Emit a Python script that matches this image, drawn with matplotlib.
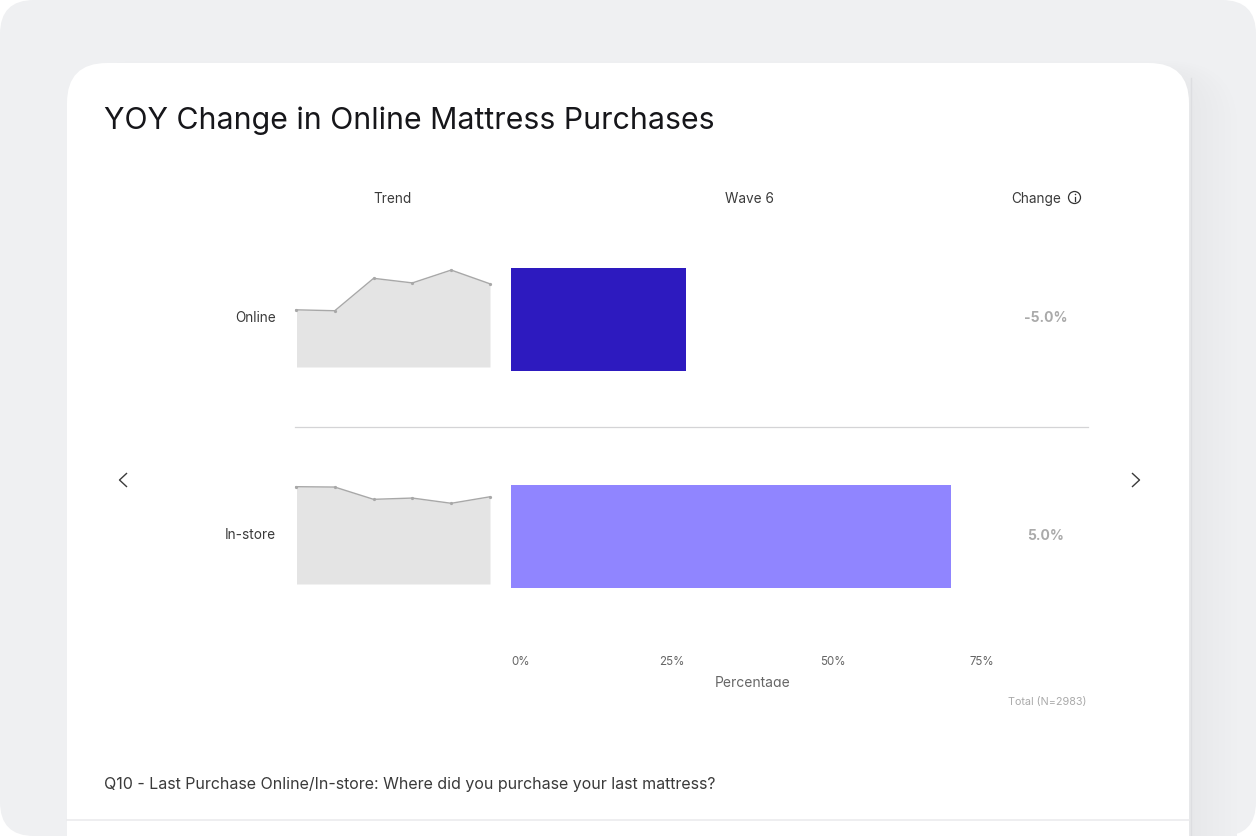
import matplotlib
matplotlib.use('Agg')
import matplotlib.pyplot as plt
from matplotlib.patches import FancyBboxPatch, Circle
from matplotlib.transforms import Bbox

plt.rcParams['font.family'] = ['Inter', 'DejaVu Sans']

# values
categories = ['Online', 'In-store']
wave6 = [27.2, 68.3]
changes = ['-5.0%', '5.0%']
trend_online = [18.7, 18.4, 29.0, 27.5, 31.7, 27.2]
trend_instore = [76.2, 75.9, 66.3, 67.3, 63.2, 68.3]
trends = [trend_online, trend_instore]
ticks = [0, 25, 50, 75]
tick_labels = ['0%', '25%', '50%', '75%']

bar_colors = ['#2d1abf', '#9085ff']
W, H = 1256, 836


def px_axes(fig, left, top, right, bottom, **kw):
    return fig.add_axes([left / W, 1 - bottom / H, (right - left) / W, (bottom - top) / H], **kw)


fig = plt.figure(figsize=(W / 100, H / 100), dpi=100, facecolor='white')

# page background, card and text all live on one full size axes in pixel units
bg = fig.add_axes([0, 0, 1, 1])
bg.set_xlim(0, W)
bg.set_ylim(H, 0)
bg.axis('off')

bg.add_patch(FancyBboxPatch((0, 0), W, H, boxstyle='round,pad=0,rounding_size=34',
                            fc='#eff0f2', ec='none'))
# soft shadow on the right of the card, opaque steps from page grey down to a darker grey
shadow_steps = ['#eeeff1', '#edeef0', '#ecedef', '#ebecee', '#eaebed', '#e9eaec', '#e8e9eb', '#e7e8ea']
for i, col in enumerate(shadow_steps):
    grow = 48 - i * 6
    bg.add_patch(FancyBboxPatch((67, 76 - grow * 0.3), 1122 + grow, 900,
                                boxstyle='round,pad=0,rounding_size=%d' % (40 + grow * 0.6),
                                fc=col, ec='none'))
bg.plot([1191, 1191], [78, H], color='#dddee1', lw=1)
bg.add_patch(FancyBboxPatch((67, 63), 1122, 900, boxstyle='round,pad=0,rounding_size=40',
                            fc='white', ec='none'))

bg.text(104, 121, 'YOY Change in Online Mattress Purchases', fontsize=21.8, color='#16161a',
        ha='left', va='center')
for label, x in [('Trend', 393), ('Wave 6', 749), ('Change', 1036)]:
    bg.text(x, 203, label, fontsize=9.8, color='#3a3a3a', ha='center', va='baseline')

# info icon
bg.add_patch(Circle((1074.5, 197.5), 6, fc='none', ec='#333333', lw=0.9))
bg.plot([1074.5, 1074.5], [197, 200.8], color='#333333', lw=0.9)
bg.plot([1074.5], [194.3], marker='o', ms=1.1, mew=0, color='#333333')

# row divider and bottom rule
bg.plot([295, 1088], [427, 427], color='#d4d4d6', lw=0.9)
bg.plot([67, 1189], [819.5, 819.5], color='#e9eaec', lw=1.1)

# carousel chevrons
bg.plot([126.5, 119.5, 126.5], [473.5, 480, 486.5], color='#3a3a3a', lw=1)
bg.plot([1132.5, 1139.5, 1132.5], [473.5, 480, 486.5], color='#3a3a3a', lw=1)

bg.text(1087, 701.5, 'Total (N=2983)', fontsize=7.8, color='#aaaaaa', ha='right', va='center')
bg.text(104, 784.5, 'Q10 - Last Purchase Online/In-store: Where did you purchase your last mattress?',
        fontsize=11.5, color='#3a3a3a', ha='left', va='center')

# row text
row_y = [322, 539]
for name, change, y in zip(categories, changes, row_y):
    bg.text(275.5, y, name, fontsize=9.8, color='#3a3a3a', ha='right', va='baseline')
    bg.text(1046, y + 0.5, change, fontsize=10, fontweight='bold', color='#aaaaaa',
            ha='center', va='baseline')

# the axis title is cut off at the bottom in the original
t = bg.text(753, 682.5, 'Percentage', fontsize=10, color='#666666', ha='center', va='center')
t.set_clip_box(Bbox([[0, H - 686.5], [W, H]]))
t.set_clip_on(True)

# sparklines
spark_boxes = [(267, 367, 32.7), (484, 584, 78.3)]
for values, (top, bottom, ymax) in zip(trends, spark_boxes):
    ax = px_axes(fig, 297, top, 490, bottom)
    ax.patch.set_alpha(0)
    ax.axis('off')
    xs = list(range(len(values)))
    ax.set_xlim(0.026, 5)
    ax.set_ylim(0, ymax)
    ax.fill_between(xs, values, 0, color='#e4e4e4', lw=0)
    ax.plot(xs, values, color='#a8a8a8', lw=1.0, marker='o', ms=1.3, clip_on=False)

# bars
ax = px_axes(fig, 511, 211, 994, 645)
ax.patch.set_alpha(0)
ax.barh(range(len(categories)), wave6, height=0.475, color=bar_colors)
ax.set_xlim(0, 75)
ax.set_ylim(1.5, -0.5)
ax.set_yticks([])
ax.set_xticks(ticks)
ax.set_xticklabels(tick_labels, fontsize=8.3, color='#666666')
ax.tick_params(axis='x', length=0, pad=8)
labels = ax.get_xticklabels()
labels[0].set_ha('left')
labels[-1].set_ha('right')
for side in ax.spines.values():
    side.set_visible(False)

fig.savefig('out.png', dpi=100)
